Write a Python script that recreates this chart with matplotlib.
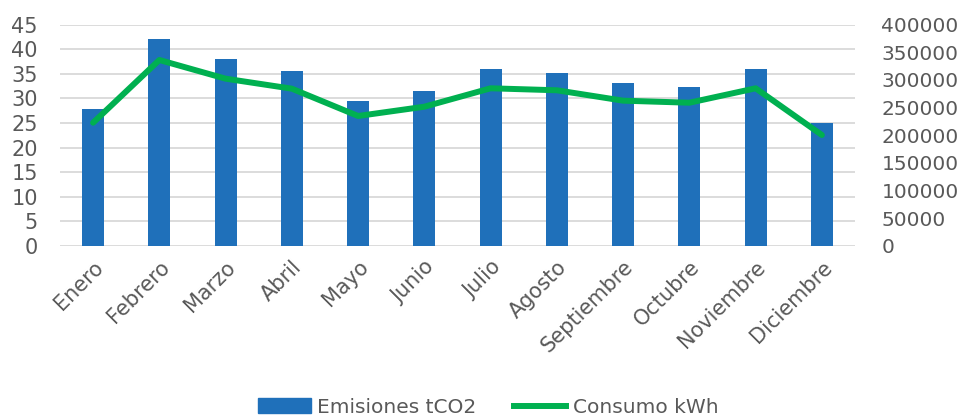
import numpy as np
import matplotlib
matplotlib.use("Agg")
import matplotlib.pyplot as plt
from matplotlib.lines import Line2D
from matplotlib.patches import Patch

# ── Data ────────────────────────────────────────────────────
meses = ["Enero", "Febrero", "Marzo", "Abril", "Mayo", "Junio", "Julio",
         "Agosto", "Septiembre", "Octubre", "Noviembre", "Diciembre"]
emisiones_tco2 = [27.8, 42.1, 38.0, 35.6, 29.5, 31.5, 36.0, 35.2, 33.1, 32.3, 36.0, 25.0]
consumo_kwh = [222600, 336100, 302300, 284200, 234800, 251600, 284900, 281300,
               262500, 258800, 284900, 200400]

# ── Palette ─────────────────────────────────────────────────
BLUE  = "#1F70BA"
GREEN = "#00B050"
GRID  = "#D9D9D9"
TEXT  = "#595959"

plt.rcParams.update({
    "font.family": "DejaVu Sans",
    "font.size": 15,
})

fig = plt.figure(figsize=(9.61, 4.18), dpi=100)
ax1 = fig.add_axes([0.0624, 0.412, 0.8273, 0.529])
ax2 = ax1.twinx()

x = np.arange(len(meses))
ax1.bar(x, emisiones_tco2, width=0.33, color=BLUE, zorder=3)
ax2.plot(x, consumo_kwh, color=GREEN, lw=4.3, solid_capstyle="round",
         solid_joinstyle="round", zorder=4)

ax1.set_xlim(-0.5, len(meses) - 0.5)
ax1.set_ylim(0, 45)
ax1.set_yticks(np.arange(0, 46, 5))
ax2.set_ylim(0, 400000)
ax2.set_yticks(np.arange(0, 400001, 50000))
ax2.set_yticklabels([f"{v}" for v in range(0, 400001, 50000)])

ax1.yaxis.grid(True, color=GRID, lw=1.3, zorder=0)
ax1.set_axisbelow(True)
ax1.set_xticks(x)
ax1.set_xticklabels(meses, rotation=45, ha="right", va="top",
                    rotation_mode="anchor")

for ax in (ax1, ax2):
    for s in ax.spines.values():
        s.set_visible(False)
    ax.tick_params(length=0, colors=TEXT, labelsize=15)
ax1.tick_params(axis="y", pad=16)
ax1.tick_params(axis="x", pad=8)
ax2.tick_params(axis="y", pad=19, labelsize=14.5)
ax2.patch.set_visible(False)

handles = [Patch(color=BLUE, label="Emisiones tCO2"),
           Line2D([], [], color=GREEN, lw=4.3, label="Consumo kWh")]
leg = fig.legend(handles=handles, loc="lower center", ncol=2,
                 bbox_to_anchor=(0.508, -0.04), frameon=False,
                 fontsize=14.5, handlelength=2.6, handleheight=0.7,
                 handletextpad=0.3, columnspacing=1.9)
for t in leg.get_texts():
    t.set_color(TEXT)

fig.savefig("out.png", dpi=100)
